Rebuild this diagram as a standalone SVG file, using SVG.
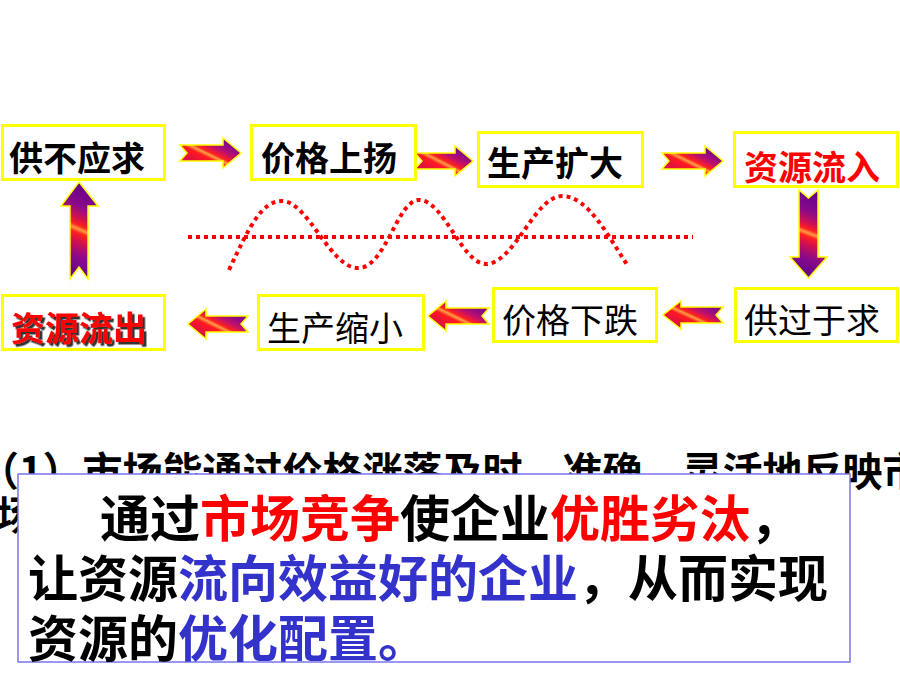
<svg xmlns="http://www.w3.org/2000/svg" width="900" height="675" viewBox="0 0 900 675">
  <style>
    .box { fill: #ffffff; stroke: #ffff00; stroke-width: 3; }
    .t { font-family: "Noto Sans CJK SC", "Liberation Sans", sans-serif; font-size: 34px; }
    .b { font-weight: bold; }
    .blk { fill: #000000; }
    .red { fill: #ff0000; }
    .blu { fill: #3333cc; }
    .arr { stroke: #ffff00; stroke-width: 1.5; stroke-linejoin: miter; }
    .h { fill: url(#hgrad); }
    .v { fill: url(#vgrad); }
    .dot { fill: none; stroke: #ff0000; stroke-width: 4; stroke-dasharray: 4 4; }
    .para { font-family: "Noto Sans CJK SC", "Liberation Sans", sans-serif; font-weight: bold; }
  </style>
  <defs>
    <linearGradient id="hgrad" x1="0" y1="1" x2="1" y2="0">
      <stop offset="0" stop-color="#c0106a"/>
      <stop offset="0.22" stop-color="#e01040"/>
      <stop offset="0.40" stop-color="#ff1a20"/>
      <stop offset="0.46" stop-color="#ffa040"/>
      <stop offset="0.51" stop-color="#ff2020"/>
      <stop offset="0.62" stop-color="#c0106a"/>
      <stop offset="0.76" stop-color="#8a0a88"/>
      <stop offset="1" stop-color="#6a0090"/>
    </linearGradient>
    <linearGradient id="vgrad" x1="0.58" y1="0" x2="0.42" y2="1">
      <stop offset="0" stop-color="#5e0090"/>
      <stop offset="0.25" stop-color="#8a0a88"/>
      <stop offset="0.38" stop-color="#d01050"/>
      <stop offset="0.45" stop-color="#ff2020"/>
      <stop offset="0.49" stop-color="#ff9a40"/>
      <stop offset="0.53" stop-color="#ff2020"/>
      <stop offset="0.62" stop-color="#d01050"/>
      <stop offset="0.77" stop-color="#8a0a88"/>
      <stop offset="1" stop-color="#5a0090"/>
    </linearGradient>
    <filter id="shadow" x="-10%" y="-10%" width="130%" height="140%">
      <feDropShadow dx="2.5" dy="2.5" stdDeviation="0.3" flood-color="#333333" flood-opacity="1"/>
    </filter>
  </defs>

  <rect width="900" height="675" fill="#ffffff"/>

  <!-- nodes, top row -->
  <g id="n1">
    <rect class="box" x="2.5" y="125.5" width="162" height="54"/>
    <text class="t b blk" x="9" y="171">供不应求</text>
  </g>
  <g id="n2">
    <rect class="box" x="251.5" y="125.5" width="164" height="54"/>
    <text class="t b blk" x="261" y="171">价格上扬</text>
  </g>
  <g id="n3">
    <rect class="box" x="478.5" y="132.5" width="164" height="54"/>
    <text class="t b blk" x="487" y="176">生产扩大</text>
  </g>
  <g id="n4">
    <rect class="box" x="734.5" y="132.5" width="163" height="54"/>
    <text class="t b red" x="744" y="180">资源流入</text>
  </g>

  <!-- nodes, bottom row -->
  <g id="n5">
    <rect class="box" x="735.5" y="288.5" width="162" height="53"/>
    <text class="t blk" x="744" y="333">供过于求</text>
  </g>
  <g id="n6">
    <rect class="box" x="493.5" y="288.5" width="163" height="53"/>
    <text class="t blk" x="502" y="333">价格下跌</text>
  </g>
  <g id="n7">
    <rect class="box" x="258.5" y="295.5" width="165" height="54"/>
    <text class="t blk" x="267" y="341">生产缩小</text>
  </g>
  <g id="n8">
    <rect class="box" x="2.5" y="295.5" width="162" height="54"/>
    <text class="t b red" x="11" y="341" filter="url(#shadow)">资源流出</text>
  </g>

  <!-- connectors -->
  <g id="connectors">
    <path class="arr h" d="M180,145 L223,145 L223,138 L241,153 L223,168 L223,161 L180,161 L187,153 Z"/>
    <path class="arr h" d="M415,153 L455,153 L455,146 L473,161 L455,176 L455,169 L415,169 L422,161 Z"/>
    <path class="arr h" d="M662,153 L705,153 L705,146 L723,161 L705,176 L705,169 L662,169 L669,161 Z"/>
    <path class="arr v" d="M799,190 L808.5,198 L818,190 L818,257 L827,257 L808.5,278 L790,257 L799,257 Z"/>
    <path class="arr h" d="M723,307 L681,307 L681,301 L663,315 L681,329 L681,323 L723,323 L716,315 Z"/>
    <path class="arr h" d="M489,308 L446,308 L446,301 L428,316 L446,331 L446,324 L489,324 L482,316 Z"/>
    <path class="arr h" d="M248,316 L206,316 L206,309 L188,324 L206,339 L206,332 L248,332 L241,324 Z"/>
    <path class="arr v" d="M79,182 L98,206 L88,206 L88,279 L79,267 L70,279 L70,206 L61,206 Z"/>
  </g>

  <!-- dotted wave -->
  <g id="wave">
    <line class="dot" x1="188" y1="237" x2="693" y2="237"/>
    <path class="dot" d="M229,270 C250,225 262,201 282,201 C308,201 330,268 358,268 C386,268 397,200 419,200 C444,200 462,264 486,264 C514,264 535,196 562,196 C588,196 608,236 628,266"/>
  </g>

  <!-- background paragraph (partly covered) -->
  <g id="paragraph">
    <text class="para" font-size="40" x="-21" y="486" fill="#000000">（1）市场能通过价格涨落及时、准确、灵活地反映市</text>
    <text class="para" font-size="40" x="-4" y="530" fill="#000000">场</text>
  </g>

  <!-- summary box -->
  <g id="summary">
    <rect x="18" y="474" width="832" height="188" fill="#ffffff" stroke="#7777ee" stroke-width="1.5"/>
    <text class="para" font-size="50" x="100" y="537"><tspan class="blk">通过</tspan><tspan class="red">市场竞争</tspan><tspan class="blk">使企业</tspan><tspan class="red">优胜劣汰</tspan><tspan class="blk">，</tspan></text>
    <text class="para" font-size="50" x="28" y="597"><tspan class="blk">让资源</tspan><tspan class="blu">流向效益好的企业</tspan><tspan class="blk">，从而实现</tspan></text>
    <text class="para" font-size="50" x="28" y="657"><tspan class="blk">资源的</tspan><tspan class="blu">优化配置。</tspan></text>
  </g>
</svg>
